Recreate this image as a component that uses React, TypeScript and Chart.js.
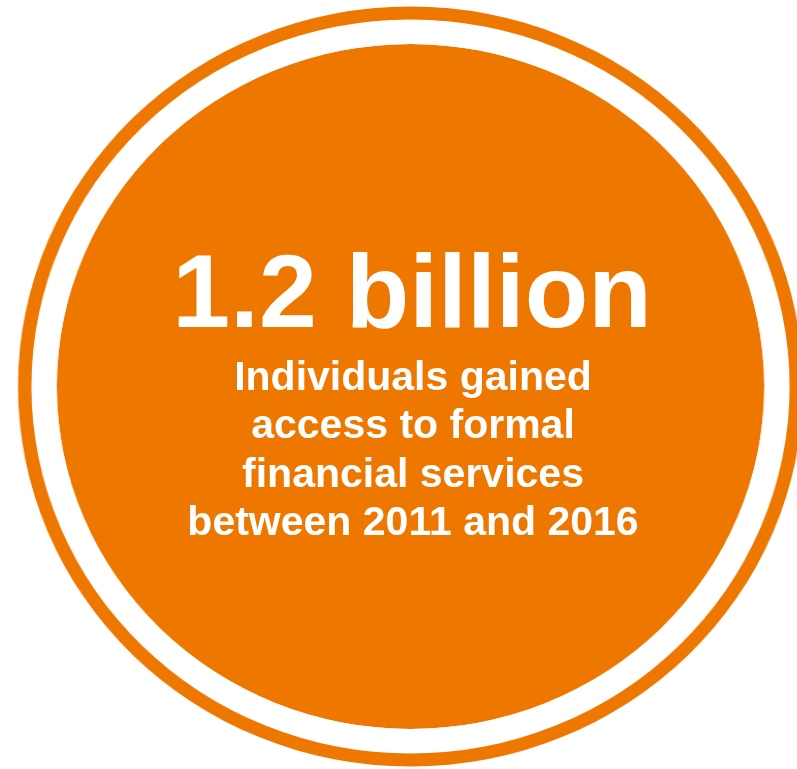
import React, { useEffect, useRef } from "react";
import { Chart, registerables } from "chart.js";

Chart.register(...registerables);

// Headline figure (billions of newly banked individuals, 2011–2016)
const headlineValue = [1.2];
const headlineLabel = "1.2 billion";
const captionLines = [
  "Individuals gained",
  "access to formal",
  "financial services",
  "between 2011 and 2016",
];

// Ring thicknesses, outermost first: thin outline, white gap, solid disc
const ringWeights = [13, 24.5, 342.5];
const ringColors = ["#EE7700", "#FFFFFF", "#EE7700"];

const FONT = '"Liberation Sans", Arial, Helvetica, sans-serif';

export default function App() {
  const canvasRef = useRef<HTMLCanvasElement | null>(null);

  useEffect(() => {
    if (!canvasRef.current) return;
    const chart = new Chart(canvasRef.current, {
      type: "doughnut",
      data: {
        labels: [headlineLabel],
        datasets: ringWeights.map((w, i) => ({
          data: headlineValue,
          backgroundColor: ringColors[i],
          borderWidth: 0,
          weight: w,
        })),
      },
      options: {
        animation: false,
        responsive: true,
        maintainAspectRatio: false,
        cutout: 0,
        radius: 380,
        clip: false,
        events: [],
        layout: { padding: { left: 24, right: 0, top: 4, bottom: 0 } },
        plugins: {
          legend: { display: false },
          tooltip: { enabled: false },
        },
      } as any,
    });
    return () => chart.destroy();
  }, []);

  return (
    <div
      style={{
        position: "fixed",
        left: 0,
        top: 0,
        width: 797,
        height: 769,
        overflow: "hidden",
        background: "#FFFFFF",
      }}
    >
      <div
        style={{
          position: "absolute",
          left: 0,
          top: 0,
          width: 797,
          height: 769,
          transform: "scaleX(1.033)",
          transformOrigin: "410.5px 386.5px",
        }}
      >
        <canvas ref={canvasRef} />
      </div>
      <div
        style={{
          position: "absolute",
          left: 12,
          width: 800,
          top: 239,
          textAlign: "center",
          fontFamily: FONT,
          fontWeight: 700,
          fontSize: 104,
          lineHeight: "104px",
          color: "#FFFFFF",
          whiteSpace: "nowrap",
        }}
      >
        {headlineLabel}
      </div>
      <div
        style={{
          position: "absolute",
          left: 13,
          width: 800,
          top: 352,
          textAlign: "center",
          fontFamily: FONT,
          fontWeight: 700,
          fontSize: 41,
          lineHeight: "48.3px",
          color: "#FFFFFF",
          whiteSpace: "nowrap",
        }}
      >
        {captionLines.map((l) => (
          <div key={l}>{l}</div>
        ))}
      </div>
    </div>
  );
}
